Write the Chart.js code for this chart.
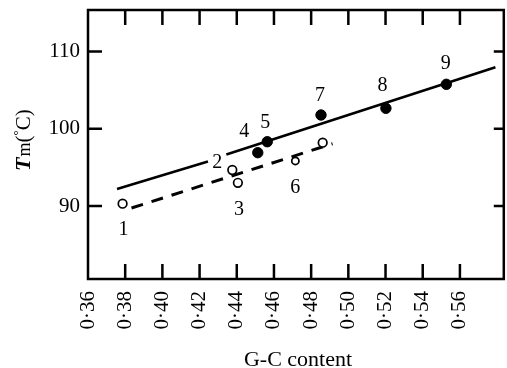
<!DOCTYPE html>
<html>
<head>
<meta charset="utf-8">
<script src="https://cdn.jsdelivr.net/npm/chart.js@4.4.0/dist/chart.umd.min.js"></script>
<style>
  html, body { margin: 0; padding: 0; background: #fff; overflow: hidden; }
  /* a bit wider than the window so the right frame sits at the edge */
  #wrap { width: 510px; height: 368px; }
</style>
</head>
<body>
<div id="wrap"><canvas id="myChart"></canvas></div>
<script>
// open circles (dashed group) and filled circles (solid group)
var openX = [0.3786, 0.4376, 0.4406, 0.4715, 0.4862];
var openY = [90.3, 94.66, 93.0, 95.83, 98.19];
var openNames = ['1', '2', '3', '6', ''];

var filledX = [0.4513, 0.4564, 0.4853, 0.5202, 0.5527];
var filledY = [96.9, 98.32, 101.78, 102.65, 105.75];
var filledNames = ['4', '5', '7', '8', '9'];

// fitted lines (solid has a gap where label 2 sits)
var solidX = [0.3756, 0.4245, null, 0.4344, 0.5791];
var solidY = [92.2, 95.75, null, 96.67, 107.96];
var dashX = [0.3834, 0.4915];
var dashY = [89.74, 98.06];

var xTicks = [0.36, 0.38, 0.40, 0.42, 0.44, 0.46, 0.48, 0.50, 0.52, 0.54, 0.56];
var yTicks = [90, 100, 110];

function pts(xs, ys) {
  var out = [];
  for (var i = 0; i < xs.length; i++) {
    out.push(xs[i] === null ? {x: null, y: null} : {x: xs[i], y: ys[i]});
  }
  return out;
}

var serif = '"Liberation Serif", "DejaVu Serif", serif';

// label offsets from their point, in px
var labelOffsets = {
  '1': [1, 25], '2': [-15, -8.5], '3': [1, 25], '6': [0, 25],
  '4': [-13.6, -22], '5': [-2, -21], '7': [-1, -21], '8': [-3.4, -24], '9': [-0.6, -22.6]
};

function noPad(s) {
  s.paddingTop = 0; s.paddingBottom = 0; s.paddingLeft = 0; s.paddingRight = 0;
}

var framePlugin = {
  id: 'frame',
  afterDraw: function(chart) {
    var ctx = chart.ctx;
    var a = chart.chartArea;
    var xs = chart.scales.x, ys = chart.scales.y;
    ctx.save();
    ctx.strokeStyle = '#000';
    ctx.lineWidth = 2.5;
    ctx.strokeRect(a.left, a.top, a.right - a.left, a.bottom - a.top);

    // inward ticks
    ctx.lineWidth = 2.5;
    ctx.beginPath();
    xTicks.forEach(function(v) {
      if (v <= xs.min) return;
      var px = xs.getPixelForValue(v);
      ctx.moveTo(px, a.bottom); ctx.lineTo(px, a.bottom - 15);
      ctx.moveTo(px, a.top); ctx.lineTo(px, a.top + 15);
    });
    yTicks.forEach(function(v) {
      var py = ys.getPixelForValue(v);
      ctx.moveTo(a.left, py); ctx.lineTo(a.left + 14, py);
      ctx.moveTo(a.right, py); ctx.lineTo(a.right - 10, py);
    });
    ctx.stroke();

    // point numbers
    ctx.fillStyle = '#000';
    ctx.font = '20px ' + serif;
    ctx.textAlign = 'center';
    ctx.textBaseline = 'alphabetic';
    [[1, openNames], [2, filledNames]].forEach(function(pair) {
      var meta = chart.getDatasetMeta(pair[0]);
      pair[1].forEach(function(name, i) {
        if (!name) return;
        var el = meta.data[i];
        var off = labelOffsets[name];
        ctx.fillText(name, el.x + off[0], el.y + off[1] + 6.8);
      });
    });

    // x title
    ctx.font = '22px ' + serif;
    ctx.fillText('G-C content', 298, 366);

    // y title, rotated
    ctx.translate(30, 171);
    ctx.rotate(-Math.PI / 2);
    ctx.textAlign = 'left';
    var x = 0;
    ctx.font = 'italic bold 22px ' + serif;
    ctx.fillText('T', x, 0); x += ctx.measureText('T').width + 1;
    ctx.font = '18px ' + serif;
    ctx.fillText('m', x, 0); x += ctx.measureText('m').width;
    ctx.font = '21px ' + serif;
    ctx.fillText('(', x, 0); x += ctx.measureText('(').width;
    ctx.font = '13px ' + serif;
    ctx.fillText('\u00b0', x, -8); x += ctx.measureText('\u00b0').width;
    ctx.font = '21px ' + serif;
    ctx.fillText('C)', x, 0);
    ctx.restore();
  }
};

var ctx = document.getElementById('myChart').getContext('2d');
var myChart = new Chart(ctx, {
  type: 'scatter',
  data: {
    datasets: [{
      label: 'solid',
      data: pts(solidX, solidY),
      showLine: true,
      spanGaps: false,
      borderColor: '#000',
      borderWidth: 2.6,
      pointRadius: 0,
      order: 3
    }, {
      label: 'open',
      data: pts(openX, openY),
      backgroundColor: '#fff',
      borderColor: '#000',
      borderWidth: 1.7,
      pointRadius: [4.3, 4.3, 4.3, 3.6, 4.3],
      order: 1
    }, {
      label: 'filled',
      data: pts(filledX, filledY),
      backgroundColor: '#000',
      borderColor: '#000',
      pointRadius: 5.2,
      order: 1
    }, {
      label: 'dashed',
      data: pts(dashX, dashY),
      showLine: true,
      borderColor: '#000',
      borderWidth: 3,
      borderDash: [12, 9],
      pointRadius: 0,
      order: 2
    }]
  },
  options: {
    responsive: true,
    maintainAspectRatio: false,
    animation: false,
    events: [],
    layout: { padding: { top: 10, right: 2, left: 0, bottom: 0 } },
    plugins: { legend: { display: false }, tooltip: { enabled: false } },
    scales: {
      x: {
        type: 'linear',
        min: 0.36,
        max: 0.5836,
        grid: { display: false, drawTicks: false },
        border: { display: false },
        afterBuildTicks: function(s) { s.ticks = xTicks.map(function(v) { return {value: v}; }); },
        afterFit: function(s) { s.height = 89; noPad(s); },
        ticks: {
          autoSkip: false,
          minRotation: 90,
          maxRotation: 90,
          padding: 12,
          color: '#000',
          font: { family: serif, size: 21 },
          callback: function(v) { return v.toFixed(2).replace('.', '\u00b7'); }
        }
      },
      y: {
        type: 'linear',
        min: 80.55,
        max: 115.37,
        grid: { display: false, drawTicks: false },
        border: { display: false },
        afterBuildTicks: function(s) { s.ticks = yTicks.map(function(v) { return {value: v}; }); },
        afterFit: function(s) { s.width = 88; noPad(s); },
        ticks: {
          padding: 8,
          color: '#000',
          font: { family: serif, size: 21 }
        }
      }
    }
  },
  plugins: [framePlugin]
});
</script>
</body>
</html>
